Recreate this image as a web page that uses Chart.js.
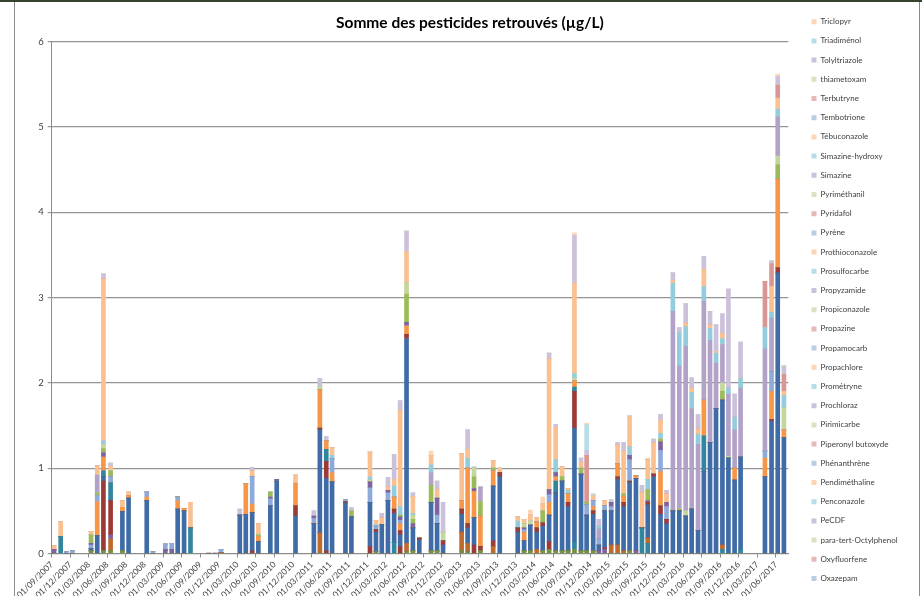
<!DOCTYPE html>
<html lang="fr">
<head>
<meta charset="utf-8">
<title>Somme des pesticides retrouvés</title>
<script src="https://cdn.jsdelivr.net/npm/chart.js@4/dist/chart.umd.min.js"></script>
<style>
  html, body { margin: 0; padding: 0; background: #fff; }
  #cadre { position: relative; width: 922px; height: 596px; overflow: hidden; }
  #graphe { position: absolute; left: 0; top: 0; }
  .trait-haut { position: absolute; left: 0; top: 0; width: 922px; height: 2px; background: #34432f; }
  .bord-gauche { position: absolute; left: 14px; top: 2px; width: 1px; height: 594px; background: #8c8c8c; }
  .bord-droit { position: absolute; left: 919px; top: 2px; width: 1px; height: 594px; background: #8c8c8c; }
</style>
</head>
<body>
<div id="cadre">
  <canvas id="graphe" width="922" height="596"></canvas>
  <div class="trait-haut"></div>
  <div class="bord-gauche"></div>
  <div class="bord-droit"></div>
</div>
<script>
// Dates de prélèvement (une barre empilée par date)
const datesPrelevement = [
  '2007-09-13', '2007-10-15', '2007-11-12', '2007-12-11', '2008-03-12', '2008-04-12', '2008-05-12', '2008-06-17', '2008-08-14', '2008-09-14',
  '2008-12-12', '2009-01-12', '2009-03-12', '2009-04-13', '2009-05-12', '2009-06-13', '2009-07-14', '2009-10-13', '2009-11-13', '2009-12-12',
  '2010-03-13', '2010-04-12', '2010-05-13', '2010-06-13', '2010-08-11', '2010-09-12', '2010-12-13', '2011-03-12', '2011-04-11', '2011-05-12',
  '2011-06-10', '2011-08-15', '2011-09-14', '2011-12-14', '2012-01-13', '2012-02-11', '2012-03-11', '2012-04-11', '2012-05-10', '2012-06-11',
  '2012-07-12', '2012-08-13', '2012-10-10', '2012-11-09', '2012-12-08', '2013-03-08', '2013-04-07', '2013-05-08', '2013-06-09', '2013-08-11',
  '2013-09-13', '2013-12-10', '2014-01-11', '2014-02-11', '2014-03-12', '2014-04-11', '2014-05-12', '2014-06-14', '2014-07-15', '2014-08-14',
  '2014-09-15', '2014-10-17', '2014-11-14', '2014-12-16', '2015-01-13', '2015-02-11', '2015-03-13', '2015-04-14', '2015-05-13', '2015-06-12',
  '2015-07-13', '2015-08-12', '2015-09-10', '2015-10-08', '2015-11-12', '2015-12-11', '2016-01-12', '2016-02-13', '2016-03-14', '2016-04-13',
  '2016-05-14', '2016-06-12', '2016-07-12', '2016-08-11', '2016-09-12', '2016-10-11', '2016-11-11', '2016-12-10', '2017-04-08', '2017-05-10',
  '2017-06-10', '2017-07-10'
];

// Étiquettes de l'axe des dates (tous les 3 mois)
const etiquettesDates = [
  '01/09/2007', '01/12/2007', '01/03/2008', '01/06/2008', '01/09/2008', '01/12/2008', '01/03/2009', '01/06/2009',
  '01/09/2009', '01/12/2009', '01/03/2010', '01/06/2010', '01/09/2010', '01/12/2010', '01/03/2011', '01/06/2011',
  '01/09/2011', '01/12/2011', '01/03/2012', '01/06/2012', '01/09/2012', '01/12/2012', '01/03/2013', '01/06/2013',
  '01/09/2013', '01/12/2013', '01/03/2014', '01/06/2014', '01/09/2014', '01/12/2014', '01/03/2015', '01/06/2015',
  '01/09/2015', '01/12/2015', '01/03/2016', '01/06/2016', '01/09/2016', '01/12/2016', '01/03/2017', '01/06/2017'
];

// Molécules absentes de la légende (la légende d'origine est tronquée), en µg/L
const vertFonce = [
  0,0,0,0,0.03,0,0.03,0.03,0.03,0,  0,0,0,0,0,0,0,0,0,0,  0,0,0,0,0,0,0,0,0,0,
  0,0,0,0,0.02,0,0,0,0,0.02,  0.03,0,0.03,0.03,0,0.03,0.02,0,0.03,0,  0,0,0.03,0.03,0,0.03,0.05,0.03,0.03,0.03,
  0.05,0.03,0.03,0.03,0,0,0,0,0,0.03,  0,0,0,0,0,0,0,0,0,0,  0,0,0,0,0,0,0,0,0,0,  0,0
];
const sarcelleBas = [
  0,0.20,0,0,0,0,0,0,0,0,  0,0,0,0,0,0,0.30,0,0,0,  0,0,0,0,0,0,0,0,0,0,
  0,0,0,0,0,0,0,0.13,0,0,  0,0,0,0,0,0,0,0,0,0,  0,0,0,0,0,0,0,0,0,0,
  0.08,0,0,0,0,0,0,0,0,0,  0,0.30,0.12,0,0,0,0,0,0,0,  0,0,0,0,0.05,0,0,0.05,0,0,  0,0
];
const orangeFonce = [
  0,0,0,0,0,0,0,0.14,0,0,  0,0,0,0,0,0,0,0,0,0.01,  0,0,0,0,0,0,0,0,0.24,0,
  0,0,0,0,0,0,0,0,0,0.10,  0,0,0,0,0,0.22,0.10,0,0,0.08,  0,0,0,0,0.05,0,0,0,0,0,
  0,0,0,0,0,0,0.10,0.10,0.03,0,  0,0,0.06,0,0,0,0,0,0,0,  0,0,0,0,0.05,0,0,0,0,0,  0,0
];
const violetBas = [
  0.05,0,0,0,0,0,0,0.05,0,0,  0,0,0.04,0.05,0,0,0,0,0,0,  0,0,0,0,0,0,0,0,0,0,
  0,0,0,0,0,0,0,0,0,0,  0,0,0,0,0,0,0,0,0,0,  0,0,0,0,0,0,0,0,0,0,
  0,0,0,0,0.03,0.05,0,0,0,0,  0.03,0,0,0,0,0,0,0,0,0,  0,0,0,0,0,0,0,0,0,0,  0,0
];
const rougeBas = [
  0,0,0,0,0,0,0.82,0.40,0,0,  0,0,0,0,0,0,0,0,0,0,  0,0,0.03,0,0,0,0,0,0,0.03,
  0,0,0,0.08,0,0,0,0,0.08,0,  0,0,0,0,0,0,0,0.10,0.05,0.07,  0,0,0,0,0,0,0.09,0,0,0,
  0,0,0,0,0,0.02,0,0,0,0,  0,0,0,0,0,0,0,0,0,0,  0,0,0,0,0,0,0,0,0,0,  0,0
];
const bleu = [
  0,0,0,0,0.03,0.21,0.05,0,0.46,0.65,  0.62,0,0,0,0.52,0.50,0,0,0,0,
  0.45,0.46,0.45,0.14,0.56,0.85,0.44,0.35,1.21,0.85,  0.84,0.59,0.43,0.52,0.23,0.34,0.62,0.34,0.14,2.40,
  0.27,0.16,0.57,0.32,0.10,0.21,0.18,0.32,0,0.64,  0.90,0.25,0.12,0.30,0.20,0.29,0.31,0.68,0.82,0.52,
  1.34,0.90,0.42,0.43,0.07,0.43,0.40,0.77,0.52,0.80,  0.85,0,0.39,0.90,0.46,0.35,0.50,0.50,0.44,0.52,
  0.27,0.96,1.30,1.70,1.70,1.12,0.86,1.08,0.90,1.55,  3.29,1.36
];
const rouge = [
  0,0,0,0,0,0,0,0,0,0,  0,0,0,0,0,0,0,0,0,0,  0,0,0,0,0,0,0.12,0,0.02,0.20,
  0,0.02,0,0,0.03,0,0,0.05,0.05,0.05,  0,0.02,0,0,0.05,0.06,0.05,0,0,0,  0.05,0.05,0,0,0.05,0.04,0,0,0,0.05,
  0.43,0,0,0.04,0,0,0,0.03,0.05,0.02,  0,0,0.03,0.03,0.10,0.05,0,0,0,0,  0,0,0,0,0,0,0,0,0,0.02,  0.06,0
];
const sarcelle = [
  0,0,0,0,0,0,0.07,0.21,0,0,  0,0,0,0,0,0,0,0,0,0,  0,0,0,0,0,0,0,0,0,0.14,
  0,0,0,0,0,0,0,0,0,0,  0,0,0,0,0,0,0,0,0,0,  0,0,0,0,0,0,0,0.14,0,0,
  0.05,0,0,0,0,0,0,0,0,0,  0,0,0,0,0,0,0,0,0,0,  0,0.42,0,0,0,0,0,0,0,0,  0,0
];
const orange = [
  0,0,0,0,0,0.40,0.16,0,0.05,0.03,  0.04,0,0,0,0.10,0.03,0,0,0,0,  0,0.36,0.10,0.06,0,0,0.26,0.01,0.45,0.10,
  0.11,0,0,0,0,0,0,0.14,0.08,0.10,  0,0,0,0,0,0.10,0.65,0.31,0.36,0.18,  0,0,0.10,0,0.07,0,0.15,0.05,0,0.10,
  0.07,0,0,0.05,0,0,0,0.15,0.07,0,  0.03,0,0,0,0.40,0,0,0,0,0,  0,0.42,0,0,0,0,0.14,0,0.22,0.33,  1.04,0.09
];
const bleuClair = [
  0,0,0.02,0.03,0.04,0.07,0,0.07,0,0,  0.06,0.02,0.07,0.07,0.04,0,0,0,0,0.04,  0,0,0.32,0,0.08,0,0,0.05,0,0,
  0.16,0.02,0,0.17,0.04,0,0.09,0,0.04,0,  0,0,0,0.10,0,0,0,0,0,0,  0,0,0.03,0,0,0,0.09,0,0,0,
  0,0,0.12,0.07,0.07,0.06,0.05,0,0,0.25,  0,0,0,0,0.25,0.15,0,0,0,0,  0,0,0,0,0,0,0,0,0.08,0.23,  0,0
];
const violet = [
  0,0,0,0,0.02,0,0.05,0,0,0,  0,0,0,0,0,0,0,0,0,0,  0,0,0,0,0.02,0.02,0,0.03,0,0,
  0,0,0,0.07,0,0,0.03,0,0.04,0.04,  0.05,0,0,0.20,0,0,0,0.03,0,0,  0,0,0.02,0.01,0,0,0.06,0.05,0,0,
  0,0,0,0,0,0,0.05,0,0,0.05,  0,0,0.02,0,0.10,0.05,0,0,0,0,  0,0,0,0,0,0,0,0,0,0,  0,0
];
const vert = [
  0,0,0,0,0.10,0.03,0.05,0.07,0,0,  0,0,0,0,0.01,0,0,0,0,0,  0,0,0,0.02,0.06,0,0,0,0,0,
  0,0,0.07,0,0,0,0,0,0.02,0.33,  0.05,0,0.20,0,0,0,0,0.14,0.17,0.03,  0,0,0,0,0,0.14,0,0,0.05,0,
  0,0.07,0.03,0,0,0,0,0,0.03,0,  0,0,0.13,0,0.03,0,0,0.02,0,0,  0,0,0,0,0.10,0,0,0,0,0,  0.17,0
];
const vertClair = [
  0,0,0,0,0,0,0.05,0,0,0,  0,0,0,0,0,0,0,0,0,0,  0,0,0,0,0,0,0,0,0.04,0,
  0,0,0,0.02,0,0,0,0,0,0.13,  0.05,0,0,0,0.10,0,0,0.10,0,0,  0,0,0.05,0.04,0,0,0,0,0,0,
  0.04,0,0,0,0,0,0,0,0,0,  0,0,0,0,0,0,0,0,0.06,0,  0,0,0,0,0.10,0.02,0,0,0,0,  0.10,0.26
];
const mauve = [
  0,0,0,0,0,0.21,0,0,0,0,  0,0,0,0,0,0,0,0,0,0,  0,0,0,0,0,0,0,0,0,0,
  0,0,0,0,0,0,0,0,0,0,  0,0,0.15,0,0,0,0,0,0.17,0,  0,0,0,0,0,0,0,0,0,0,
  0,0,0,0,0.12,0,0,0,0,0,  0,0,0,0,0,0,2.34,1.68,1.93,1.18,  1.01,1.16,1.20,0.53,0.45,0.73,0.45,0.81,1.20,0.63,  0.46,0
];
const cyan = [
  0,0,0,0,0,0,0.04,0,0,0,  0,0,0,0,0,0,0,0,0,0,  0,0,0,0,0,0,0,0,0,0,
  0.04,0,0,0.04,0.02,0,0,0.13,0.10,0,  0.02,0,0.09,0,0,0,0.12,0,0,0,  0,0.08,0,0,0,0,0,0.15,0,0.04,
  0.05,0,0,0,0.03,0,0,0,0,0.10,  0,0,0.12,0,0.07,0,0.33,0.39,0.23,0.19,  0.12,0.17,0.14,0.12,0.07,0.07,0.15,0.11,0.25,0.07,  0.09,0.14
];
const peche = [
  0.04,0.17,0,0,0.04,0.11,1.90,0.05,0.08,0.04,  0,0,0,0,0,0,0.30,0,0,0,  0,0,0.07,0.13,0,0,0.10,0,0,0,
  0.09,0,0,0.29,0.05,0.08,0.04,0.08,1.13,0.37,  0.20,0,0.11,0.10,0,0.55,0.10,0,0,0.09,  0.05,0.05,0.05,0.07,0.05,0.08,1.53,0.38,0.12,0.02,
  1.06,0.07,0,0.06,0,0.06,0,0.22,0.50,0.36,  0,0.42,0.23,0.37,0.15,0.10,0.03,0,0.04,0.05,  0.06,0.20,0.04,0.02,0.06,0,0,0,0,0.30,  0.13,0.05
];
const rose = [
  0,0,0,0,0,0,0,0,0,0,  0,0,0,0,0,0,0,0,0,0,  0,0,0,0,0,0,0,0,0,0,
  0,0,0,0,0,0,0,0,0,0,  0,0,0,0,0,0,0,0,0,0,  0,0,0,0,0,0,0,0,0,0,
  0,0,0.55,0,0,0,0,0,0,0,  0,0,0,0,0,0,0,0,0,0,  0,0,0,0,0,0,0,0,0.54,0.27,  0.15,0.20
];

// Molécules visibles dans la légende (seules quelques-unes apparaissent dans les barres)
const tolyltriazole = [
  0,0,0,0,0,0,0.06,0.04,0,0,  0,0,0,0,0,0,0,0.01,0.01,0,  0.07,0,0.04,0,0,0,0,0.06,0.09,0.05,
  0,0,0.04,0,0,0.05,0.11,0.29,0.11,0.24,  0.04,0,0,0.10,0.35,0,0.23,0,0,0,  0,0,0,0,0,0,0.07,0.03,0,0,
  0.56,0.05,0.06,0,0.08,0,0.03,0.03,0.10,0,  0,0.08,0,0.04,0.07,0.04,0.09,0.06,0.23,0.12,  0.17,0.15,0.16,0.31,0.23,1.16,0.27,0.43,0,0.03,  0.10,0.10
];
const triadimenol = [
  0,0,0,0,0,0,0,0,0,0,  0,0,0,0,0,0,0,0,0,0,  0,0,0,0,0,0,0,0,0,0,
  0,0,0,0,0,0,0,0,0,0,  0,0,0,0,0,0,0,0.02,0,0,  0,0,0,0,0,0,0,0,0,0,
  0,0,0.30,0.02,0,0,0,0,0,0,  0,0,0,0,0,0,0,0,0,0,  0,0,0,0,0,0,0,0,0,0,  0,0
];
const triclopyr = [
  0,0,0,0,0,0,0,0,0,0,  0,0,0,0,0,0,0,0,0,0,  0,0,0,0,0,0,0,0,0,0,
  0,0,0,0,0,0,0,0,0,0,  0,0,0.05,0,0,0,0,0,0,0,  0,0,0,0.06,0,0.08,0,0,0,0,
  0.03,0,0.02,0,0,0,0,0,0,0,  0,0,0.02,0,0,0,0,0,0,0,  0,0,0,0,0,0,0,0,0,0,  0.03,0
];

// Ordre d'empilement (bas -> haut) des molécules hors légende
const seriesHorsLegende = [
  { nom: 'Autre molécule 1', valeurs: vertFonce, couleur: '#76923C' },
  { nom: 'Autre molécule 2', valeurs: sarcelleBas, couleur: '#31859C' },
  { nom: 'Autre molécule 3', valeurs: orangeFonce, couleur: '#C0692C' },
  { nom: 'Autre molécule 4', valeurs: violetBas, couleur: '#7F62A0' },
  { nom: 'Autre molécule 5', valeurs: rougeBas, couleur: '#9B3B38' },
  { nom: 'Autre molécule 6', valeurs: bleu, couleur: '#3F6CA6' },
  { nom: 'Autre molécule 7', valeurs: rouge, couleur: '#9B3B38' },
  { nom: 'Autre molécule 8', valeurs: sarcelle, couleur: '#31859C' },
  { nom: 'Autre molécule 9', valeurs: orange, couleur: '#F79646' },
  { nom: 'Autre molécule 10', valeurs: bleuClair, couleur: '#8EAADB' },
  { nom: 'Autre molécule 11', valeurs: violet, couleur: '#7F62A0' },
  { nom: 'Autre molécule 12', valeurs: vert, couleur: '#9BBB59' },
  { nom: 'Autre molécule 13', valeurs: vertClair, couleur: '#C3D69B' },
  { nom: 'Autre molécule 14', valeurs: mauve, couleur: '#B3A2C7' },
  { nom: 'Autre molécule 15', valeurs: cyan, couleur: '#93CDDD' },
  { nom: 'Autre molécule 16', valeurs: peche, couleur: '#FAC090' },
  { nom: 'Autre molécule 17', valeurs: rose, couleur: '#D99694' }
];

// Molécules de la légende, de bas en haut de la pile
const moleculesLegende = [
  'Oxazepam', 'Oxyfluorfene', 'para-tert-Octylphenol', 'PeCDF', 'Penconazole', 'Pendiméthaline',
  'Phénanthrène', 'Piperonyl butoxyde', 'Pirimicarbe', 'Prochloraz', 'Prométryne', 'Propachlore',
  'Propamocarb', 'Propazine', 'Propiconazole', 'Propyzamide', 'Prosulfocarbe', 'Prothioconazole',
  'Pyrène', 'Pyridafol', 'Pyriméthanil', 'Simazine', 'Simazine-hydroxy', 'Tébuconazole',
  'Tembotrione', 'Terbutryne', 'thiametoxam', 'Tolyltriazole', 'Triadiménol', 'Triclopyr'
];
const valeursLegende = { 'Tolyltriazole': tolyltriazole, 'Triadiménol': triadimenol, 'Triclopyr': triclopyr };
const couleursLegende = ['#B9CDE5', '#E6B9B8', '#D7E4BD', '#CCC1DA', '#B7DEE8', '#FCD5B5'];

// Position d'une date sur l'axe : nombre de mois depuis le 01/09/2007
function moisDepuisDebut(date) {
  const [a, m, j] = date.split('-').map(Number);
  return (a - 2007) * 12 + (m - 9) + (j - 1) / 31;
}
const xPrelevements = datesPrelevement.map(moisDepuisDebut);

function enPoints(valeurs) {
  return valeurs.map((v, i) => ({ x: xPrelevements[i], y: v }));
}

const jeux = [];
seriesHorsLegende.forEach(s => {
  jeux.push({ label: s.nom, data: enPoints(s.valeurs), backgroundColor: s.couleur, horsLegende: true });
});
moleculesLegende.forEach((nom, i) => {
  jeux.push({ label: nom, data: enPoints(valeursLegende[nom] || []), backgroundColor: couleursLegende[i % 6] });
});

Chart.defaults.font.family = 'Lato, "Liberation Sans", sans-serif';
Chart.defaults.color = '#404040';

new Chart(document.getElementById('graphe'), {
  type: 'bar',
  data: { datasets: jeux },
  options: {
    responsive: false,
    animation: false,
    layout: { padding: { left: 32, top: 6.5, right: 14.3, bottom: 0 } },
    datasets: { bar: { barThickness: 4, borderWidth: 0 } },
    plugins: {
      title: {
        display: true,
        text: 'Somme des pesticides retrouvés (µg/L)',
        color: '#000',
        font: { size: 15.5, weight: 'bold' },
        padding: { top: 7, bottom: 9.6 }
      },
      legend: {
        position: 'right',
        align: 'start',
        reverse: true,
        labels: {
          boxWidth: 5,
          boxHeight: 5,
          padding: 11.2,
          color: '#404040',
          font: { size: 8 },
          filter: (item, data) => !data.datasets[item.datasetIndex].horsLegende
        }
      },
      tooltip: { enabled: false }
    },
    scales: {
      x: {
        type: 'linear',
        stacked: true,
        min: 0,
        max: 119,
        offset: false,
        grid: { drawOnChartArea: false, tickLength: 4, color: '#8c8c8c', offset: false },
        border: { color: '#8c8c8c' },
        ticks: {
          stepSize: 3,
          includeBounds: false,
          autoSkip: false,
          maxRotation: 45,
          minRotation: 45,
          padding: 2,
          font: { size: 8.5 },
          callback: (v, i) => etiquettesDates[i]
        },
        afterFit: s => { s.height = 42.5; }
      },
      y: {
        stacked: true,
        min: 0,
        max: 6,
        ticks: { stepSize: 1, padding: 4, font: { size: 9.5 } },
        grid: { color: '#959595', lineWidth: 1.2, tickLength: 4 },
        border: { color: '#8c8c8c' },
        afterFit: s => { s.width = 19.7; }
      },
      // espace vide entre la zone de tracé et la légende
      marge: {
        position: 'right',
        display: true,
        grid: { display: false },
        ticks: { display: false },
        border: { display: false },
        afterFit: s => { s.width = 12; }
      }
    }
  }
});
</script>
</body>
</html>
